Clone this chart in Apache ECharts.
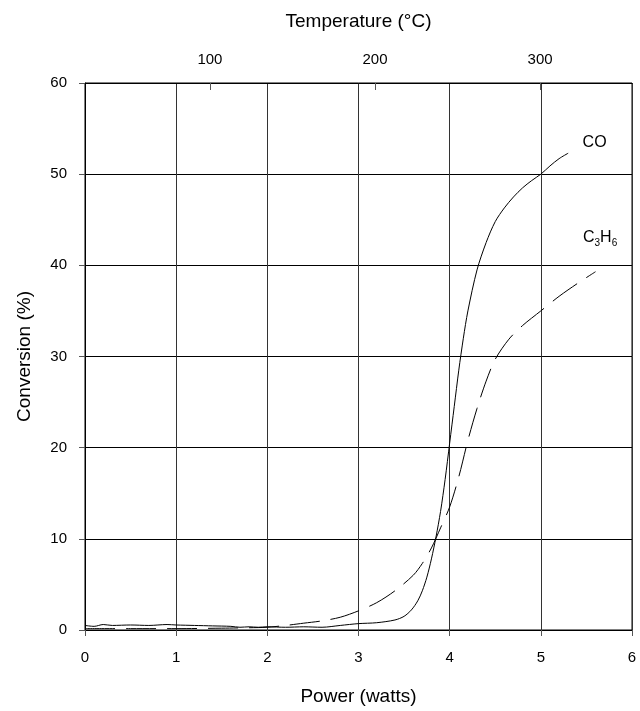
<!DOCTYPE html>
<html><head><meta charset="utf-8">
<script src="https://cdn.jsdelivr.net/npm/echarts@6/dist/echarts.min.js"></script>
<style>html,body{margin:0;padding:0;background:#fff}#c{width:640px;height:711px}</style>
</head><body><div id="c"></div>
<script>
// Power (watts) / conversion (%) for CO (solid)
const coPower = [0, 0.1, 0.2, 0.3, 0.5, 0.7, 0.9, 1.0, 1.2, 1.4, 1.6, 1.7, 1.8, 1.9, 2.0, 2.2, 2.4, 2.6, 2.8, 3.0, 3.2, 3.4, 3.5, 3.58, 3.65, 3.7, 3.75, 3.8, 3.85, 3.9, 3.95, 4.0, 4.05, 4.1, 4.15, 4.2, 4.3, 4.4, 4.5, 4.6, 4.7, 4.8, 4.9, 5.0, 5.1, 5.2, 5.3];
const coConv  = [0.5, 0.4, 0.6, 0.5, 0.55, 0.5, 0.6, 0.55, 0.5, 0.45, 0.4, 0.3, 0.35, 0.3, 0.35, 0.3, 0.35, 0.3, 0.5, 0.7, 0.8, 1.1, 1.5, 2.2, 3.2, 4.3, 5.8, 7.8, 10.2, 13, 16.5, 20.5, 24.5, 28.5, 32, 35, 39.5, 42.5, 44.8, 46.3, 47.5, 48.5, 49.3, 50.0, 50.9, 51.7, 52.3];
// C3H6 (dashed)
const c3Power = [0, 0.5, 1.0, 1.5, 1.8, 2.0, 2.2, 2.4, 2.6, 2.8, 3.0, 3.2, 3.4, 3.6, 3.7, 3.8, 3.9, 4.0, 4.1, 4.2, 4.3, 4.4, 4.5, 4.65, 4.8, 5.0, 5.2, 5.4, 5.6];
const c3Conv  = [0.15, 0.15, 0.15, 0.2, 0.25, 0.3, 0.5, 0.75, 1.0, 1.4, 2.1, 3.0, 4.3, 6.0, 7.3, 9.0, 11.2, 13.5, 16.8, 20.8, 24.3, 27.3, 29.7, 31.9, 33.4, 35, 36.6, 38, 39.3];
const tempTicks = [100, 200, 300];
const tempRange = [24.3, 355.7];
const powerRange = [0, 6];
const convRange = [0, 60];

const FONT = 'Liberation Sans';
const chart = echarts.init(document.getElementById('c'));
const zip = (a, b) => a.map((v, i) => [v, b[i]]);
chart.setOption({
  animation: false,
  textStyle: { fontFamily: FONT, color: '#000' },
  grid: { left: 85, right: 8, top: 83, bottom: 75, show: true, borderColor: '#000', borderWidth: 1, containLabel: false },
  xAxis: [
    {
      type: 'value', position: 'bottom', min: powerRange[0], max: powerRange[1], interval: 1,
      name: 'Power (watts)', nameLocation: 'middle', nameGap: 57,
      nameTextStyle: { fontSize: 19, color: '#000', fontFamily: FONT },
      axisLine: { show: true, lineStyle: { color: '#000', width: 1 } },
      axisTick: { show: true, inside: false, length: 6, lineStyle: { color: '#555' } },
      axisLabel: { fontSize: 15, color: '#000', margin: 20, fontFamily: FONT },
      splitLine: { show: true, lineStyle: { color: '#333', width: 1 } }
    },
    {
      type: 'value', position: 'top', min: tempRange[0], max: tempRange[1],
      name: 'Temperature (°C)', nameLocation: 'middle', nameGap: 52,
      nameTextStyle: { fontSize: 19, color: '#000', fontFamily: FONT },
      axisLine: { show: true, lineStyle: { color: '#000' } },
      axisTick: { show: true, inside: true, length: 7, customValues: tempTicks, lineStyle: { color: '#555' } },
      axisLabel: { fontSize: 15, color: '#000', margin: 16, customValues: tempTicks, fontFamily: FONT },
      splitLine: { show: false }
    }
  ],
  yAxis: {
    type: 'value', min: convRange[0], max: convRange[1], interval: 10,
    name: 'Conversion (%)', nameLocation: 'middle', nameGap: 51,
    nameTextStyle: { fontSize: 19, color: '#000', fontFamily: FONT },
    axisLine: { show: true, lineStyle: { color: '#000' } },
    axisTick: { show: true, length: 6, lineStyle: { color: '#555' } },
    axisLabel: { fontSize: 15, color: '#000', margin: 18, fontFamily: FONT },
    splitLine: { show: true, lineStyle: { color: '#000', width: 1 } }
  },
  series: [
    {
      name: 'CO', type: 'line', xAxisIndex: 0, data: zip(coPower, coConv),
      smooth: 0.3, showSymbol: false, symbol: 'none',
      lineStyle: { color: '#000', width: 1 },
      markPoint: {
        symbol: 'circle', symbolSize: 0,
        label: { show: true, formatter: 'CO', color: '#000', fontSize: 16, fontFamily: FONT, position: 'inside' },
        data: [{ coord: [5.59, 53.5] }]
      }
    },
    {
      name: 'C3H6', type: 'line', xAxisIndex: 0, data: zip(c3Power, c3Conv),
      smooth: 0.3, showSymbol: false, symbol: 'none',
      lineStyle: { color: '#000', width: 1, type: [30, 11] },
      markPoint: {
        symbol: 'circle', symbolSize: 0,
        label: {
          show: true, position: 'inside', formatter: '{n|C}{s|3}{n|H}{s|6}',
          rich: {
            n: { fontSize: 16, color: '#000', fontFamily: FONT, verticalAlign: 'bottom', lineHeight: 18 },
            s: { fontSize: 10, color: '#000', fontFamily: FONT, verticalAlign: 'bottom', lineHeight: 12, padding: [0, 0, -3, 0] }
          }
        },
        data: [{ coord: [5.65, 43.2] }]
      }
    }
  ]
});
</script></body></html>
